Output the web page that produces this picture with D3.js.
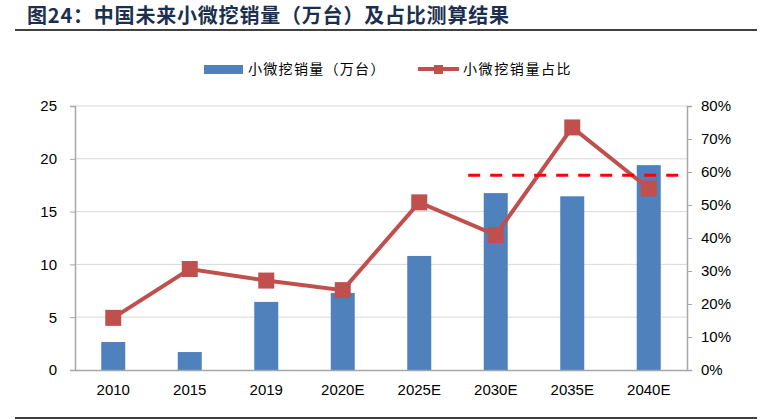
<!DOCTYPE html>
<html>
<head>
<meta charset="utf-8">
<script src="https://cdn.jsdelivr.net/npm/d3@7"></script>
<style>
    body { margin: 0; background: #fff; }
    text { font-family: "Liberation Sans", Arial, sans-serif; }
    .cjk { font-family: "Noto Sans CJK SC", sans-serif; }
</style>
</head>
<body>
<div id="chart"></div>
<script>
const categories = ["2010", "2015", "2019", "2020E", "2025E", "2030E", "2035E", "2040E"];
const sales = [2.65, 1.7, 6.45, 7.3, 10.8, 16.75, 16.45, 19.4];
const share = [0.158, 0.306, 0.271, 0.242, 0.508, 0.409, 0.735, 0.55];
const leftTicks = [0, 5, 10, 15, 20, 25];
const rightTicks = [0, 0.1, 0.2, 0.3, 0.4, 0.5, 0.6, 0.7, 0.8];
const targetShare = 0.59;

const W = 781, H = 419;
const margin = { top: 106, right: 94, bottom: 49, left: 75 };
const width = W - margin.left - margin.right;
const height = H - margin.top - margin.bottom;

const svg = d3.select("#chart").append("svg")
    .attr("width", W)
    .attr("height", H);

// title + rules
svg.append("text")
    .attr("x", 27)
    .attr("y", 23)
    .attr("class", "cjk")
    .style("font-size", "20px")
    .style("font-weight", "bold")
    .style("letter-spacing", "0.8px")
    .attr("fill", "#1b2f4f")
    .text("图24：中国未来小微挖销量（万台）及占比测算结果");

svg.append("line")
    .attr("x1", 15).attr("x2", 757)
    .attr("y1", 30).attr("y2", 30)
    .attr("stroke", "#000").attr("stroke-width", 1.5);

svg.append("line")
    .attr("x1", 15).attr("x2", 757)
    .attr("y1", 418).attr("y2", 418)
    .attr("stroke", "#000").attr("stroke-width", 1.5);

const g = svg.append("g")
    .attr("transform", `translate(${margin.left}, ${margin.top})`);

const x = d3.scaleBand()
    .domain(categories)
    .range([0, width]);

const y = d3.scaleLinear()
    .domain([0, 25])
    .range([height, 0]);

const y2 = d3.scaleLinear()
    .domain([0, 0.8])
    .range([height, 0]);

// grid
g.append("g")
    .selectAll("line")
    .data(leftTicks.slice(1))
    .enter()
    .append("line")
    .attr("x1", 0).attr("x2", width)
    .attr("y1", d => y(d)).attr("y2", d => y(d))
    .attr("stroke", "#d9d9d9")
    .attr("stroke-width", 1);

// bars
const barW = 24;
g.selectAll("rect.bar")
    .data(categories)
    .enter()
    .append("rect")
    .attr("class", "bar")
    .attr("x", d => x(d) + x.bandwidth() / 2 - barW / 2)
    .attr("y", (d, i) => y(sales[i]))
    .attr("width", barW)
    .attr("height", (d, i) => height - y(sales[i]))
    .attr("fill", "#4f81bd");

// axes
const leftAxis = g.append("g")
    .call(d3.axisLeft(y).tickValues(leftTicks).tickSize(5).tickPadding(13));
const rightAxis = g.append("g")
    .attr("transform", `translate(${width}, 0)`)
    .call(d3.axisRight(y2).tickValues(rightTicks).tickSize(5).tickPadding(9).tickFormat(d3.format(".0%")));
const bottomAxis = g.append("g")
    .attr("transform", `translate(0, ${height})`)
    .call(d3.axisBottom(x).tickSize(0).tickPadding(14));

[leftAxis, rightAxis, bottomAxis].forEach(a => {
    a.select(".domain").attr("stroke", "#a6a6a6").attr("stroke-width", 1.5);
    a.selectAll(".tick line").attr("stroke", "#a6a6a6");
    a.selectAll(".tick text")
        .attr("fill", "#000")
        .style("font-size", "15px")
        .style("font-family", "'Liberation Sans', Arial, sans-serif");
});

// line
const line = d3.line()
    .x((d, i) => x(categories[i]) + x.bandwidth() / 2)
    .y(d => y2(d));

g.append("path")
    .datum(share)
    .attr("d", line)
    .attr("fill", "none")
    .attr("stroke", "#c0504d")
    .attr("stroke-width", 4);

const mk = 16;
g.selectAll("rect.marker")
    .data(share)
    .enter()
    .append("rect")
    .attr("class", "marker")
    .attr("x", (d, i) => x(categories[i]) + x.bandwidth() / 2 - mk / 2)
    .attr("y", d => y2(d) - mk / 2)
    .attr("width", mk)
    .attr("height", mk)
    .attr("fill", "#c0504d");

// target dashed line
g.append("line")
    .attr("x1", x("2030E") + x.bandwidth() * 0.14)
    .attr("x2", width - 6)
    .attr("y1", y2(targetShare))
    .attr("y2", y2(targetShare))
    .attr("stroke", "#ff0000")
    .attr("stroke-width", 3)
    .attr("stroke-dasharray", "12,10");

// legend
const lg = svg.append("g");
lg.append("rect")
    .attr("x", 204).attr("y", 65)
    .attr("width", 39).attr("height", 9)
    .attr("fill", "#4f81bd");
lg.append("text")
    .attr("class", "cjk")
    .attr("x", 248).attr("y", 74)
    .style("font-size", "14px")
    .style("letter-spacing", "1.3px")
    .attr("fill", "#000")
    .text("小微挖销量（万台）");
lg.append("line")
    .attr("x1", 418).attr("x2", 459)
    .attr("y1", 69).attr("y2", 69)
    .attr("stroke", "#c0504d").attr("stroke-width", 4);
lg.append("rect")
    .attr("x", 434).attr("y", 65)
    .attr("width", 9).attr("height", 9)
    .attr("fill", "#c0504d");
lg.append("text")
    .attr("class", "cjk")
    .attr("x", 463).attr("y", 74)
    .style("font-size", "14px")
    .style("letter-spacing", "1.6px")
    .attr("fill", "#000")
    .text("小微挖销量占比");
</script>
</body>
</html>
